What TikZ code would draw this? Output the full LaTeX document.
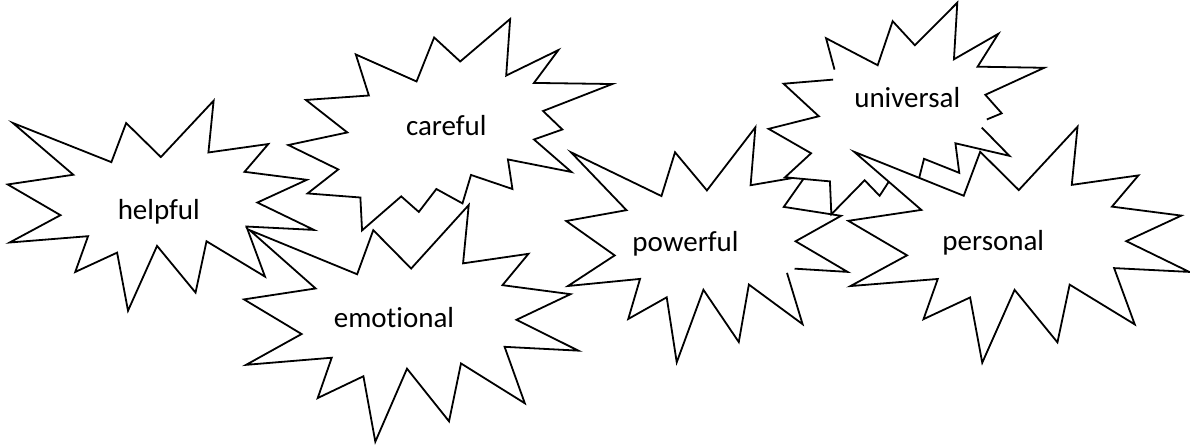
\documentclass[tikz,border=0pt]{standalone}
\usepackage{fontspec}
\setmainfont{Carlito}[Ligatures={NoCommon,NoRequired,NoContextual}]
\def\sealIpts{50/26.85, 67.23/0, 65.53/24.65, 85.09/20.63, 77.32/33.87, 97.67/37.67, 81.51/48.50, 100/61.53, 77.95/59.92, 84.00/83.77, 64.91/66.93, 61.33/91.38, 48.76/69.14, 39.28/100, 35.72/72.35, 22.05/81.56, 26.24/64.52, 0.63/67.53, 17.23/54.51, 0/39.88, 21.42/35.26, 1.71/10.63, 33.85/29.26, 38.67/10.63}
\def\sealIIpts{53.06/20.10, 68.47/0, 67.25/26.75, 83.36/14.69, 75.83/30.24, 100/30.76, 78.63/43.53, 84.58/52.27, 75.83/56.99, 87.39/72.37, 67.78/66.44, 69.18/80.42, 56.39/73.77, 53.76/87.23, 45.70/80.42, 40.28/91.26, 34.85/83.91, 22.76/100, 22.25/84.44, 5.95/82.52, 15.42/71.16, 0/59.62, 18.22/53.67, 5.43/38.29, 24.87/36.19, 20.84/16.78, 39.58/29.55, 45.01/8.74}
% #1 name, #2 point list, #3 L, #4 T, #5 W, #6 H
\newcommand\mkseal[6]{%
  \begin{scope}[shift={(#3,#4)}, xscale=#5/100, yscale=#6/100]
    \foreach \px/\py [count=\k] in #2 { \coordinate (#1-\k) at (\px,\py); }
  \end{scope}}
\newcommand\closedseal[2]{%
  \filldraw[starline] (#1-1) \foreach \k in {2,...,#2} { -- (#1-\k) } -- cycle;}
\newcommand\fillseal[2]{%
  \path[starfill] (#1-1) \foreach \k in {2,...,#2} { -- (#1-\k) } -- cycle;}
\tikzset{
  starline/.style={draw=black, fill=white, line width=1.8pt, line join=miter},
  starfill/.style={fill=white, draw=none},
  starstroke/.style={draw=black, line width=1.8pt, line join=miter},
  word/.style={font=\fontsize{29}{34}\selectfont, anchor=base, inner sep=0pt, text=black},
}
\begin{document}
\begin{tikzpicture}[x=1pt, y=-1pt]
\useasboundingbox (0,0) rectangle (1190,446);
\fill[white] (0,0) rectangle (1190,446);

% helpful
\mkseal{h}{\sealIpts}{7.7}{100.7}{306.3}{210}
\closedseal{h}{24}
\node[word] (t-helpful) at (158.8,219.3) {helpful};

% careful
\mkseal{c}{\sealIIpts}{288.3}{19}{324}{211.4}
\closedseal{c}{28}
\node[word] (t-careful) at (446.3,136) {careful};

% emotional
\mkseal{e}{\sealIpts}{244}{205}{334.3}{236.7}
\closedseal{e}{24}
\node[word] (t-emotional) at (394,327.3) {emotional};

% powerful (gap at vertex 9)
\mkseal{p}{\sealIpts}{566.2}{127.3}{281.4}{235}
\fillseal{p}{24}
\draw[starstroke, shorten <=5pt, shorten >=9pt] (p-9) \foreach \k in {10,11,12,13,14,15,16,17,18,19,20,21,22,23,24,1,2,3,4,5,6,7,8,9} { -- (p-\k) };
\node[word] (t-powerful) at (685.5,251.7) {powerful};

% universal (gaps at vertices 9 and 25)
\mkseal{u}{\sealIIpts}{768.6}{2.7}{275.6}{211.6}
\fillseal{u}{28}
\draw[starstroke, shorten <=6pt, shorten >=4pt] (u-9) \foreach \k in {10,11,12,13,14,15,16,17,18,19,20,21,22,23,24,25} { -- (u-\k) };
\draw[starstroke, shorten <=10pt, shorten >=10pt] (u-25) \foreach \k in {26,27,28,1,2,3,4,5,6,7,8,9} { -- (u-\k) };
\node[word] (t-universal) at (907.2,107.3) {universal};

% personal
\mkseal{r}{\sealIpts}{848.3}{126.7}{341}{236}
\closedseal{r}{24}
\node[word] (t-personal) at (993.3,251) {personal};
\end{tikzpicture}
\end{document}
